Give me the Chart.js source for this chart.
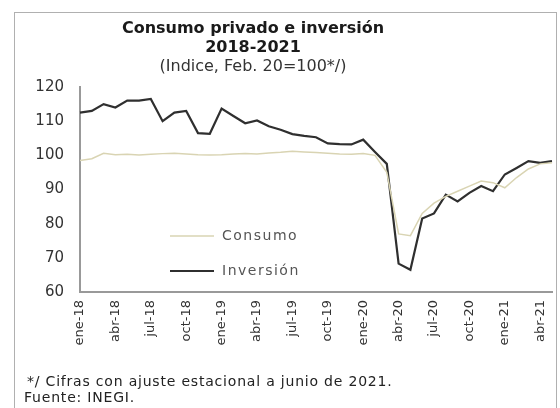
<!DOCTYPE html>
<html>
<head>
<meta charset="utf-8">
<script src="https://cdn.jsdelivr.net/npm/chart.js@4"></script>
<style>
  html, body { margin: 0; padding: 0; background: #fff; }
  #wrap { width: 560px; height: 408px; position: relative; }
</style>
</head>
<body>
<div id="wrap"><canvas id="chart" width="560" height="408"></canvas></div>
<script>
// meses ene-18 .. may-21
const months = ['ene','feb','mar','abr','may','jun','jul','ago','sep','oct','nov','dic'];
const labels = [];
for (let y = 18; y <= 21; y++) {
    for (let m = 0; m < 12; m++) {
        if (y === 21 && m > 4) break;
        labels.push(months[m] + '-' + y);
    }
}

const consumo = [
    98.5, 99.0, 100.6, 100.2, 100.3, 100.1, 100.3, 100.5, 100.6, 100.4, 100.2, 100.1,
    100.2, 100.4, 100.5, 100.4, 100.7, 100.9, 101.2, 101.0, 100.8, 100.6, 100.4, 100.3,
    100.5, 100.0, 95.0, 77.0, 76.5, 83.0, 86.0, 88.0, 89.5, 91.0, 92.5, 92.0,
    90.5, 93.5, 96.0, 97.5, 97.8
];

const inversion = [
    112.5, 113.0, 115.0, 114.0, 116.0, 116.0, 116.5, 110.0, 112.5, 113.0, 106.5, 106.3,
    113.7, 111.5, 109.4, 110.2, 108.5, 107.5, 106.2, 105.7, 105.3, 103.5, 103.3, 103.2,
    104.6, 101.0, 97.5, 68.3, 66.5, 81.5, 83.0, 88.5, 86.5, 89.0, 91.0, 89.5,
    94.4, 96.3, 98.3, 97.8, 98.3
];

const yTicks = [60, 70, 80, 90, 100, 110, 120];

const FONT = '"DejaVu Sans", Verdana, sans-serif';

// titulo, leyenda, notas y marco
const decorPlugin = {
    id: 'decor',
    afterDraw(chart) {
        const ctx = chart.ctx;
        ctx.save();
        ctx.strokeStyle = '#b0b0b0';
        ctx.lineWidth = 1;
        ctx.strokeRect(14.5, 12.5, 542, 400);

        ctx.fillStyle = '#1a1a1a';
        ctx.textAlign = 'center';
        ctx.textBaseline = 'middle';
        ctx.font = 'bold 16px ' + FONT;
        ctx.fillText('Consumo privado e inversión', 253, 29);
        ctx.fillText('2018-2021', 253, 48);
        ctx.font = '16px ' + FONT;
        ctx.fillStyle = '#333';
        ctx.fillText('(Indice, Feb. 20=100*/)', 253, 67);

        // leyenda
        const ds = chart.data.datasets;
        const ly = [236, 271];
        ctx.textAlign = 'left';
        ctx.font = '14px ' + FONT;
        ctx.letterSpacing = '1.5px';
        ds.forEach((d, i) => {
            ctx.strokeStyle = d.borderColor;
            ctx.lineWidth = d.borderWidth;
            ctx.beginPath();
            ctx.moveTo(170, ly[i]);
            ctx.lineTo(214, ly[i]);
            ctx.stroke();
            ctx.fillStyle = '#555';
            ctx.fillText(d.label, 222, ly[i]);
        });

        ctx.font = '14px ' + FONT;
        ctx.letterSpacing = '0.8px';
        ctx.fillStyle = '#222';
        ctx.fillText('*/ Cifras con ajuste estacional a junio de 2021.', 27, 382);
        ctx.fillText('Fuente: INEGI.', 24, 398);
        ctx.restore();
    }
};

new Chart(document.getElementById('chart'), {
    type: 'line',
    data: {
        labels: labels,
        datasets: [
            {
                label: 'Consumo',
                data: consumo,
                borderColor: '#d9d4b3',
                borderWidth: 1.5,
                pointRadius: 0,
                tension: 0
            },
            {
                label: 'Inversión',
                data: inversion,
                borderColor: '#2f2f2f',
                borderWidth: 2.2,
                pointRadius: 0,
                tension: 0
            }
        ]
    },
    options: {
        responsive: false,
        animation: false,
        layout: { padding: { left: 15, top: 87, right: 8, bottom: 50 } },
        plugins: {
            legend: { display: false },
            title: { display: false },
            tooltip: { enabled: false }
        },
        scales: {
            x: {
                offset: false,
                grid: { display: false, drawTicks: false },
                border: { color: '#999', width: 2 },
                afterFit: s => { s.height = 66; s.paddingLeft = 0; s.paddingRight = 0; },
                ticks: {
                    autoSkip: false,
                    maxRotation: 90,
                    minRotation: 90,
                    padding: 8,
                    color: '#333',
                    font: { family: FONT, size: 13 },
                    callback: function (v, i) {
                        return i % 3 === 0 ? labels[i] : '';
                    }
                }
            },
            y: {
                min: 60,
                max: 120,
                afterFit: s => { s.width = 65; },
                afterBuildTicks: s => { s.ticks = yTicks.map(v => ({ value: v })); },
                grid: { display: false, drawOnChartArea: false, drawTicks: true, tickLength: 4, color: '#999' },
                border: { color: '#999', width: 2 },
                ticks: {
                    padding: 12,
                    color: '#333',
                    font: { family: FONT, size: 15 }
                }
            }
        }
    },
    plugins: [decorPlugin]
});
</script>
</body>
</html>
